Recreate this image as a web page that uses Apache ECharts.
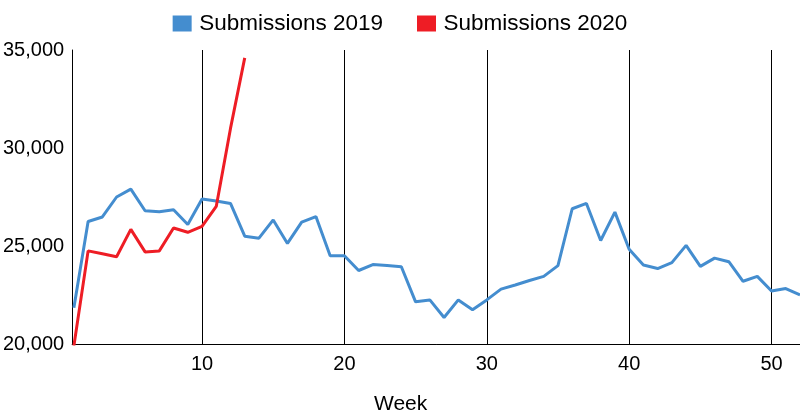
<!DOCTYPE html>
<html>
<head>
<meta charset="utf-8">
<script src="https://cdn.jsdelivr.net/npm/echarts@6/dist/echarts.min.js"></script>
<style>html,body{margin:0;padding:0;background:#fff}#chart{width:800px;height:420px}</style>
</head>
<body>
<div id="chart"></div>
<script>
const weeks = [];
for (let w = 1; w <= 52; w++) weeks.push(w);

const submissions2019 = [
  21850, 26250, 26480, 27500, 27900, 26800, 26750, 26850, 26100, 27400,
  27300, 27170, 25500, 25400, 26330, 25130, 26220, 26500, 24500, 24500,
  23750, 24050, 24000, 23940, 22150, 22250, 21350, 22250, 21750, 22250,
  22800, 23010, 23240, 23450, 24000, 26900, 27170, 25280, 26730, 24830,
  24030, 23850, 24150, 25030, 23960, 24380, 24200, 23200, 23450, 22700,
  22830, 22500
];

const submissions2020 = [
  19900, 24750, 24600, 24450, 25850, 24700, 24750, 25920, 25700, 26000,
  27020, 31000, 34600
];

const xTicks = [10, 20, 30, 40, 50];
const yTicks = [20000, 25000, 30000, 35000];
const seriesNames = ['Submissions 2019', 'Submissions 2020'];
const seriesColors = ['#448dcf', '#ee1d25'];

function pairs(vals) { return vals.map((v, i) => [weeks[i], v]); }

const chart = echarts.init(document.getElementById('chart'), null, {renderer: 'canvas'});
const font = "'Liberation Sans', Arial, sans-serif";
chart.setOption({
  animation: false,
  color: seriesColors,
  textStyle: {fontFamily: font},
  legend: {
    top: 7,
    left: 'center',
    icon: 'rect',
    itemWidth: 19,
    itemHeight: 16,
    itemGap: 34,
    textStyle: {fontSize: 22.5, color: '#000', fontFamily: font, padding: [0, 0, 0, 2.5]},
    data: seriesNames
  },
  grid: {left: 71, right: 0, top: 50, bottom: 76, containLabel: false},
  xAxis: {
    type: 'value',
    min: 0.88,
    max: 52,
    name: 'Week',
    nameLocation: 'middle',
    nameGap: 50,
    nameTextStyle: {fontSize: 21, color: '#000', fontFamily: font, padding: [0, 71, 0, 0]},
    axisLine: {show: true, lineStyle: {color: '#000', width: 1}},
    axisTick: {show: false, customValues: xTicks},
    axisLabel: {customValues: xTicks, fontSize: 20, color: '#000', margin: 10, fontFamily: font},
    splitLine: {show: true, lineStyle: {color: '#000', width: 1}}
  },
  yAxis: {
    type: 'value',
    min: yTicks[0],
    max: yTicks[yTicks.length - 1],
    interval: 5000,
    axisLine: {show: true, lineStyle: {color: '#000', width: 1}},
    axisTick: {show: false},
    splitLine: {show: false},
    axisLabel: {
      fontSize: 20, color: '#000', margin: 8, fontFamily: font,
      formatter: v => v.toLocaleString('en-US')
    }
  },
  series: [
    {name: seriesNames[0], type: 'line', data: pairs(submissions2019), showSymbol: false, symbol: 'none',
     lineStyle: {width: 3, color: seriesColors[0]}, clip: true},
    {name: seriesNames[1], type: 'line', data: pairs(submissions2020), showSymbol: false, symbol: 'none',
     lineStyle: {width: 3, color: seriesColors[1]}, clip: true}
  ]
});
</script>
</body>
</html>
